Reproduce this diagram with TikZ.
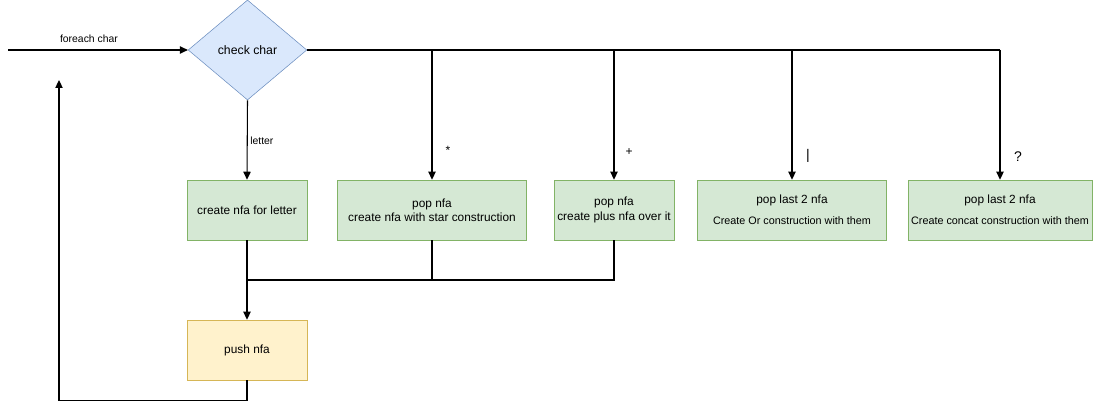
\documentclass[tikz,border=0pt]{standalone}
\usepackage{fontspec}
\setmainfont{Liberation Sans}
\usepackage{xcolor}
\usetikzlibrary{arrows.meta, positioning, shapes.geometric, calc}

\definecolor{greenfill}{HTML}{D5E8D4}
\definecolor{greenline}{HTML}{82B366}
\definecolor{bluefill}{HTML}{DAE8FC}
\definecolor{blueline}{HTML}{6C8EBF}
\definecolor{yellowfill}{HTML}{FFF2CC}
\definecolor{yellowline}{HTML}{D6B656}

\newcommand{\smallline}{\fontsize{8.1}{10}\selectfont}

\tikzset{
  stepbox/.style={draw=greenline, fill=greenfill, minimum height=45pt, align=center,
    inner sep=0pt, font=\fontsize{8.9}{10.8}\selectfont},
  pushbox/.style={draw=yellowline, fill=yellowfill, minimum width=90pt, minimum height=45pt,
    font=\fontsize{8.9}{10.8}\selectfont},
  checkbox/.style={diamond, draw=blueline, fill=bluefill, minimum width=89pt, minimum height=75pt,
    inner sep=0pt, font=\fontsize{9.2}{11}\selectfont},
  flow/.style={-{Triangle[length=6pt, width=5.5pt]}, line width=0.8pt},
  wire/.style={line width=0.8pt},
  lbl/.style={font=\fontsize{7.8}{9}\selectfont, inner sep=0pt},
  sym/.style={font=\fontsize{9}{10}\selectfont, inner sep=0pt},
}

\begin{document}
\begin{tikzpicture}[x=0.75pt, y=-0.75pt]

\useasboundingbox (0,0) rectangle (1098,409);

% Decision
\node[checkbox] (chk) at (247.5,50) {check char};

% Step boxes
\node[stepbox, minimum width=90pt]  (letter) at (247,210) {create nfa for letter};
\node[stepbox, minimum width=142pt] (star)   at (432,210) {pop nfa\\create nfa with star construction};
\node[stepbox, minimum width=90pt]  (plus)   at (614,210) {pop nfa\\create plus nfa over it};
\node[stepbox, minimum width=142pt] (orr)    at (792,210) {pop last 2 nfa\\[5pt]\smallline Create Or construction with them};
\node[stepbox, minimum width=138pt] (cat)    at (1000,210) {pop last 2 nfa\\[5pt]\smallline Create concat construction with them};

\node[pushbox] (push) at (247,350) {push nfa};

% Input and loop back
\coordinate (start) at (8,50);
\coordinate (back) at (59,80);
\coordinate (join) at (247,280);

\draw[flow] (start) -- node[lbl, above=5pt, pos=0.45] {foreach char} (chk.west);
\draw[flow] (push.south) -- ++(0,20) -| (back);

% Branches
\draw[flow] (chk.south) -- (letter.north);
\node[lbl, anchor=west] at (250,141) {letter};

\draw[wire] (chk.east) -- (chk.east -| cat.north);
\draw[flow] (chk.east -| star.north) -- (star.north);
\draw[flow] (chk.east -| plus.north) -- (plus.north);
\draw[flow] (chk.east -| orr.north)  -- (orr.north);
\draw[flow] (chk.east -| cat.north)  -- (cat.north);

\node[sym] at (448,150) {*};
\node[sym] at (629,152) {+};
\node[font=\fontsize{10.5}{12}\selectfont, inner sep=0pt] at (808,156) {|};
\node[font=\fontsize{10.5}{12}\selectfont, inner sep=0pt] at (1018,157) {?};

% Merge into push
\draw[wire] (star.south) -- (star.south |- join);
\draw[wire] (plus.south) |- (join);
\draw[flow] (letter.south) -- (push.north);

\end{tikzpicture}
\end{document}
